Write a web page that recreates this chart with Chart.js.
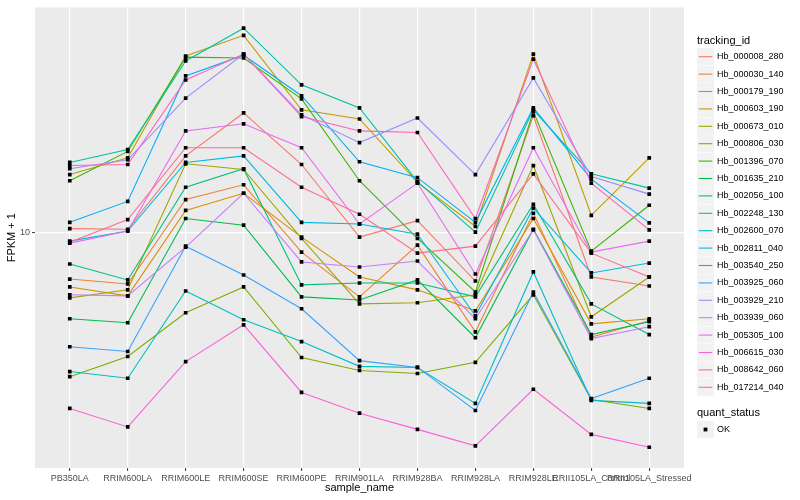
<!DOCTYPE html>
<html>
<head>
<meta charset="utf-8">
<script src="https://cdn.jsdelivr.net/npm/chart.js@4"></script>
<style>
  html, body { margin: 0; padding: 0; background: #fff; }
  #wrap { width: 800px; height: 500px; }
</style>
</head>
<body>
<div id="wrap"><canvas id="fpkmChart" width="800" height="500"></canvas></div>
<script>
// sample columns (x axis)
const samples = ['PB350LA', 'RRIM600LA', 'RRIM600LE', 'RRIM600SE', 'RRIM600PE', 'RRIM901LA',
    'RRIM928BA', 'RRIM928LA', 'RRIM928LE', 'RRII105LA_Control', 'RRII105LA_Stressed'];

const trackingIds = ['Hb_000008_280', 'Hb_000030_140', 'Hb_000179_190', 'Hb_000603_190', 'Hb_000673_010',
    'Hb_000806_030', 'Hb_001396_070', 'Hb_001635_210', 'Hb_002056_100', 'Hb_002248_130',
    'Hb_002600_070', 'Hb_002811_040', 'Hb_003540_250', 'Hb_003925_060', 'Hb_003929_210',
    'Hb_003939_060', 'Hb_005305_100', 'Hb_006615_030', 'Hb_008642_060', 'Hb_017214_040'];

// ggplot default hue palette for 20 groups
const hueColors = ['#F8766D', '#EA8331', '#D89000', '#C09B00', '#A3A500', '#7CAE00', '#39B600',
    '#00BB4E', '#00BF7D', '#00C1A3', '#00BFC4', '#00BAE0', '#00B0F6', '#35A2FF', '#9590FF',
    '#C77CFF', '#E76BF3', '#FA62DB', '#FF62BC', '#FF6C91'];

// FPKM + 1 per sample
const hb000008 = [10.3, 10.25, 18.8, 26.8, 17.5, 9.6, 11.0, 6.68, 26.2, 6.91, 6.41];
const hb000030 = [6.79, 6.52, 13.1, 14.8, 8.48, 5.86, 8.99, 4.39, 11.7, 4.2, 4.81];
const hb000179 = [6.36, 5.91, 11.98, 13.8, 9.6, 6.91, 6.21, 5.22, 11.2, 4.69, 4.89];
const hb000603 = [16.1, 18.5, 42.9, 50.9, 27.5, 25.5, 15.1, 10.5, 43.6, 11.5, 18.5];
const hb000673 = [5.81, 6.21, 17.6, 16.8, 9.5, 5.53, 5.58, 5.96, 17.35, 4.97, 6.91];
const hb000806 = [3.03, 3.58, 5.14, 6.36, 3.55, 3.19, 3.11, 3.41, 5.96, 2.51, 2.33];
const hb001396 = [15.3, 19.5, 42.5, 42.2, 30.1, 15.3, 9.5, 6.1, 27.1, 8.55, 12.5];
const hb001635 = [4.89, 4.73, 11.2, 10.6, 5.86, 5.71, 6.74, 4.18, 10.25, 4.29, 4.77];
const hb002056 = [7.69, 6.74, 14.5, 16.9, 6.47, 6.57, 6.57, 5.86, 12.6, 5.53, 4.29];
const hb002248 = [17.8, 19.8, 41.2, 54.0, 33.8, 27.95, 15.2, 10.0, 27.5, 16.2, 14.4];
const hb002600 = [3.16, 2.99, 6.15, 4.85, 4.05, 3.3, 3.27, 2.43, 7.2, 2.49, 2.43];
const hb002811 = [9.29, 10.1, 17.8, 18.8, 10.85, 10.7, 9.84, 5.01, 12.2, 7.14, 7.75];
const hb003540 = [10.85, 12.9, 36.4, 43.2, 30.9, 17.9, 15.7, 10.85, 27.95, 15.5, 10.8];
const hb003925 = [3.88, 3.73, 8.91, 7.02, 5.31, 3.46, 3.27, 2.29, 6.1, 2.53, 2.99];
const hb003929 = [16.9, 18.2, 30.3, 43.6, 26.4, 20.97, 25.7, 16.1, 35.8, 15.85, 13.7];
const hb003939 = [5.96, 5.91, 8.84, 13.8, 7.82, 7.5, 7.88, 4.89, 10.2, 4.15, 4.58];
const hb005305 = [9.14, 10.1, 23.1, 24.5, 20.1, 10.7, 15.0, 7.08, 20.1, 8.48, 9.29];
const hb006615 = [2.33, 2.0, 3.43, 4.65, 2.66, 2.24, 1.96, 1.71, 2.73, 1.88, 1.69];
const hb008642 = [17.35, 17.5, 35.2, 43.6, 26.0, 23.1, 22.8, 11.2, 41.8, 15.0, 10.2];
const hb017214 = [9.21, 11.1, 20.1, 20.1, 14.5, 11.6, 8.41, 8.91, 16.2, 8.41, 6.91];

const seriesValues = [hb000008, hb000030, hb000179, hb000603, hb000673, hb000806, hb001396,
    hb001635, hb002056, hb002248, hb002600, hb002811, hb003540, hb003925, hb003929,
    hb003939, hb005305, hb006615, hb008642, hb017214];

const yTicks = [10];
const FONT = "'Liberation Sans', Arial, Helvetica, sans-serif";

// grey panel like ggplot's theme_grey
const panelBg = {
    id: 'panelBg',
    beforeDraw(chart) {
        const { ctx, chartArea: a } = chart;
        ctx.save();
        ctx.fillStyle = '#EBEBEB';
        ctx.fillRect(a.left, a.top, a.right - a.left, a.bottom - a.top);
        ctx.restore();
    }
};

// two legends on the right (tracking_id + quant_status)
const sideLegend = {
    id: 'sideLegend',
    afterDraw(chart) {
        const ctx = chart.ctx;
        const x0 = 697, y0 = 56.7, rowH = 17.4, key = 17;
        ctx.save();
        ctx.textAlign = 'left';
        ctx.textBaseline = 'middle';
        ctx.fillStyle = '#000';
        ctx.font = '11px ' + FONT;
        ctx.fillText('tracking_id', x0, 41);
        ctx.font = '9px ' + FONT;
        trackingIds.forEach((id, i) => {
            const cy = y0 + i * rowH;
            ctx.fillStyle = '#F2F2F2';
            ctx.fillRect(x0, cy - key / 2, key, key);
            ctx.strokeStyle = hueColors[i];
            ctx.lineWidth = 1.1;
            ctx.beginPath();
            ctx.moveTo(x0 + 1.7, cy);
            ctx.lineTo(x0 + key - 1.7, cy);
            ctx.stroke();
            ctx.fillStyle = '#000';
            ctx.fillText(id, x0 + key + 3, cy);
        });

        ctx.font = '11px ' + FONT;
        ctx.fillText('quant_status', x0, 413);
        const cy = 429.5;
        ctx.fillStyle = '#F2F2F2';
        ctx.fillRect(x0, cy - key / 2, key, key);
        ctx.fillStyle = '#000';
        ctx.fillRect(x0 + key / 2 - 1.9, cy - 1.9, 3.8, 3.8);
        ctx.font = '9px ' + FONT;
        ctx.fillText('OK', x0 + key + 3, cy);
        ctx.restore();
    }
};

const lineSets = trackingIds.map((id, i) => ({
    label: id,
    data: seriesValues[i].map((v, j) => ({ x: j, y: v })),
    borderColor: hueColors[i],
    backgroundColor: hueColors[i],
    borderWidth: 1.1,
    pointRadius: 0,
    tension: 0,
    fill: false,
    order: trackingIds.length - i + 1
}));

const pointSet = {
    label: 'OK',
    data: seriesValues.flatMap(vals => vals.map((v, j) => ({ x: j, y: v }))),
    showLine: false,
    pointStyle: 'rect',
    pointRadius: 2.6,
    backgroundColor: '#000',
    borderColor: '#000',
    borderWidth: 0,
    order: 0
};

new Chart(document.getElementById('fpkmChart'), {
    type: 'line',
    data: { datasets: [...lineSets, pointSet] },
    options: {
        responsive: false,
        animation: false,
        events: [],
        layout: { padding: { top: 5, right: 116, left: 0, bottom: 0 } },
        plugins: {
            legend: { display: false },
            tooltip: { enabled: false }
        },
        scales: {
            x: {
                type: 'linear',
                min: -0.6,
                max: 10.6,
                afterBuildTicks: s => { s.ticks = samples.map((_, i) => ({ value: i })); },
                afterFit: s => { s.height = 32; },
                ticks: {
                    callback: v => samples[v],
                    autoSkip: false,
                    maxRotation: 0,
                    minRotation: 0,
                    padding: 2,
                    color: '#4D4D4D',
                    font: { size: 9, family: FONT }
                },
                grid: { color: '#FFFFFF', lineWidth: 1.2, tickLength: 3, tickColor: '#333333', tickWidth: 1 },
                border: { display: false },
                title: {
                    display: true, text: 'sample_name', color: '#000',
                    font: { size: 11, family: FONT }, padding: { top: 0, bottom: 5 }
                }
            },
            y: {
                type: 'logarithmic',
                min: 1.424,
                max: 64.13,
                afterBuildTicks: s => { s.ticks = yTicks.map(v => ({ value: v })); },
                afterFit: s => { s.width = 35; },
                ticks: {
                    callback: v => String(v),
                    padding: 2,
                    color: '#4D4D4D',
                    font: { size: 9, family: FONT }
                },
                grid: { color: '#FFFFFF', lineWidth: 1.2, tickLength: 3, tickColor: '#333333', tickWidth: 1 },
                border: { display: false },
                title: {
                    display: true, text: 'FPKM + 1', color: '#000',
                    font: { size: 11, family: FONT }, padding: { top: 5, bottom: 0 }
                }
            }
        }
    },
    plugins: [panelBg, sideLegend]
});
</script>
</body>
</html>
